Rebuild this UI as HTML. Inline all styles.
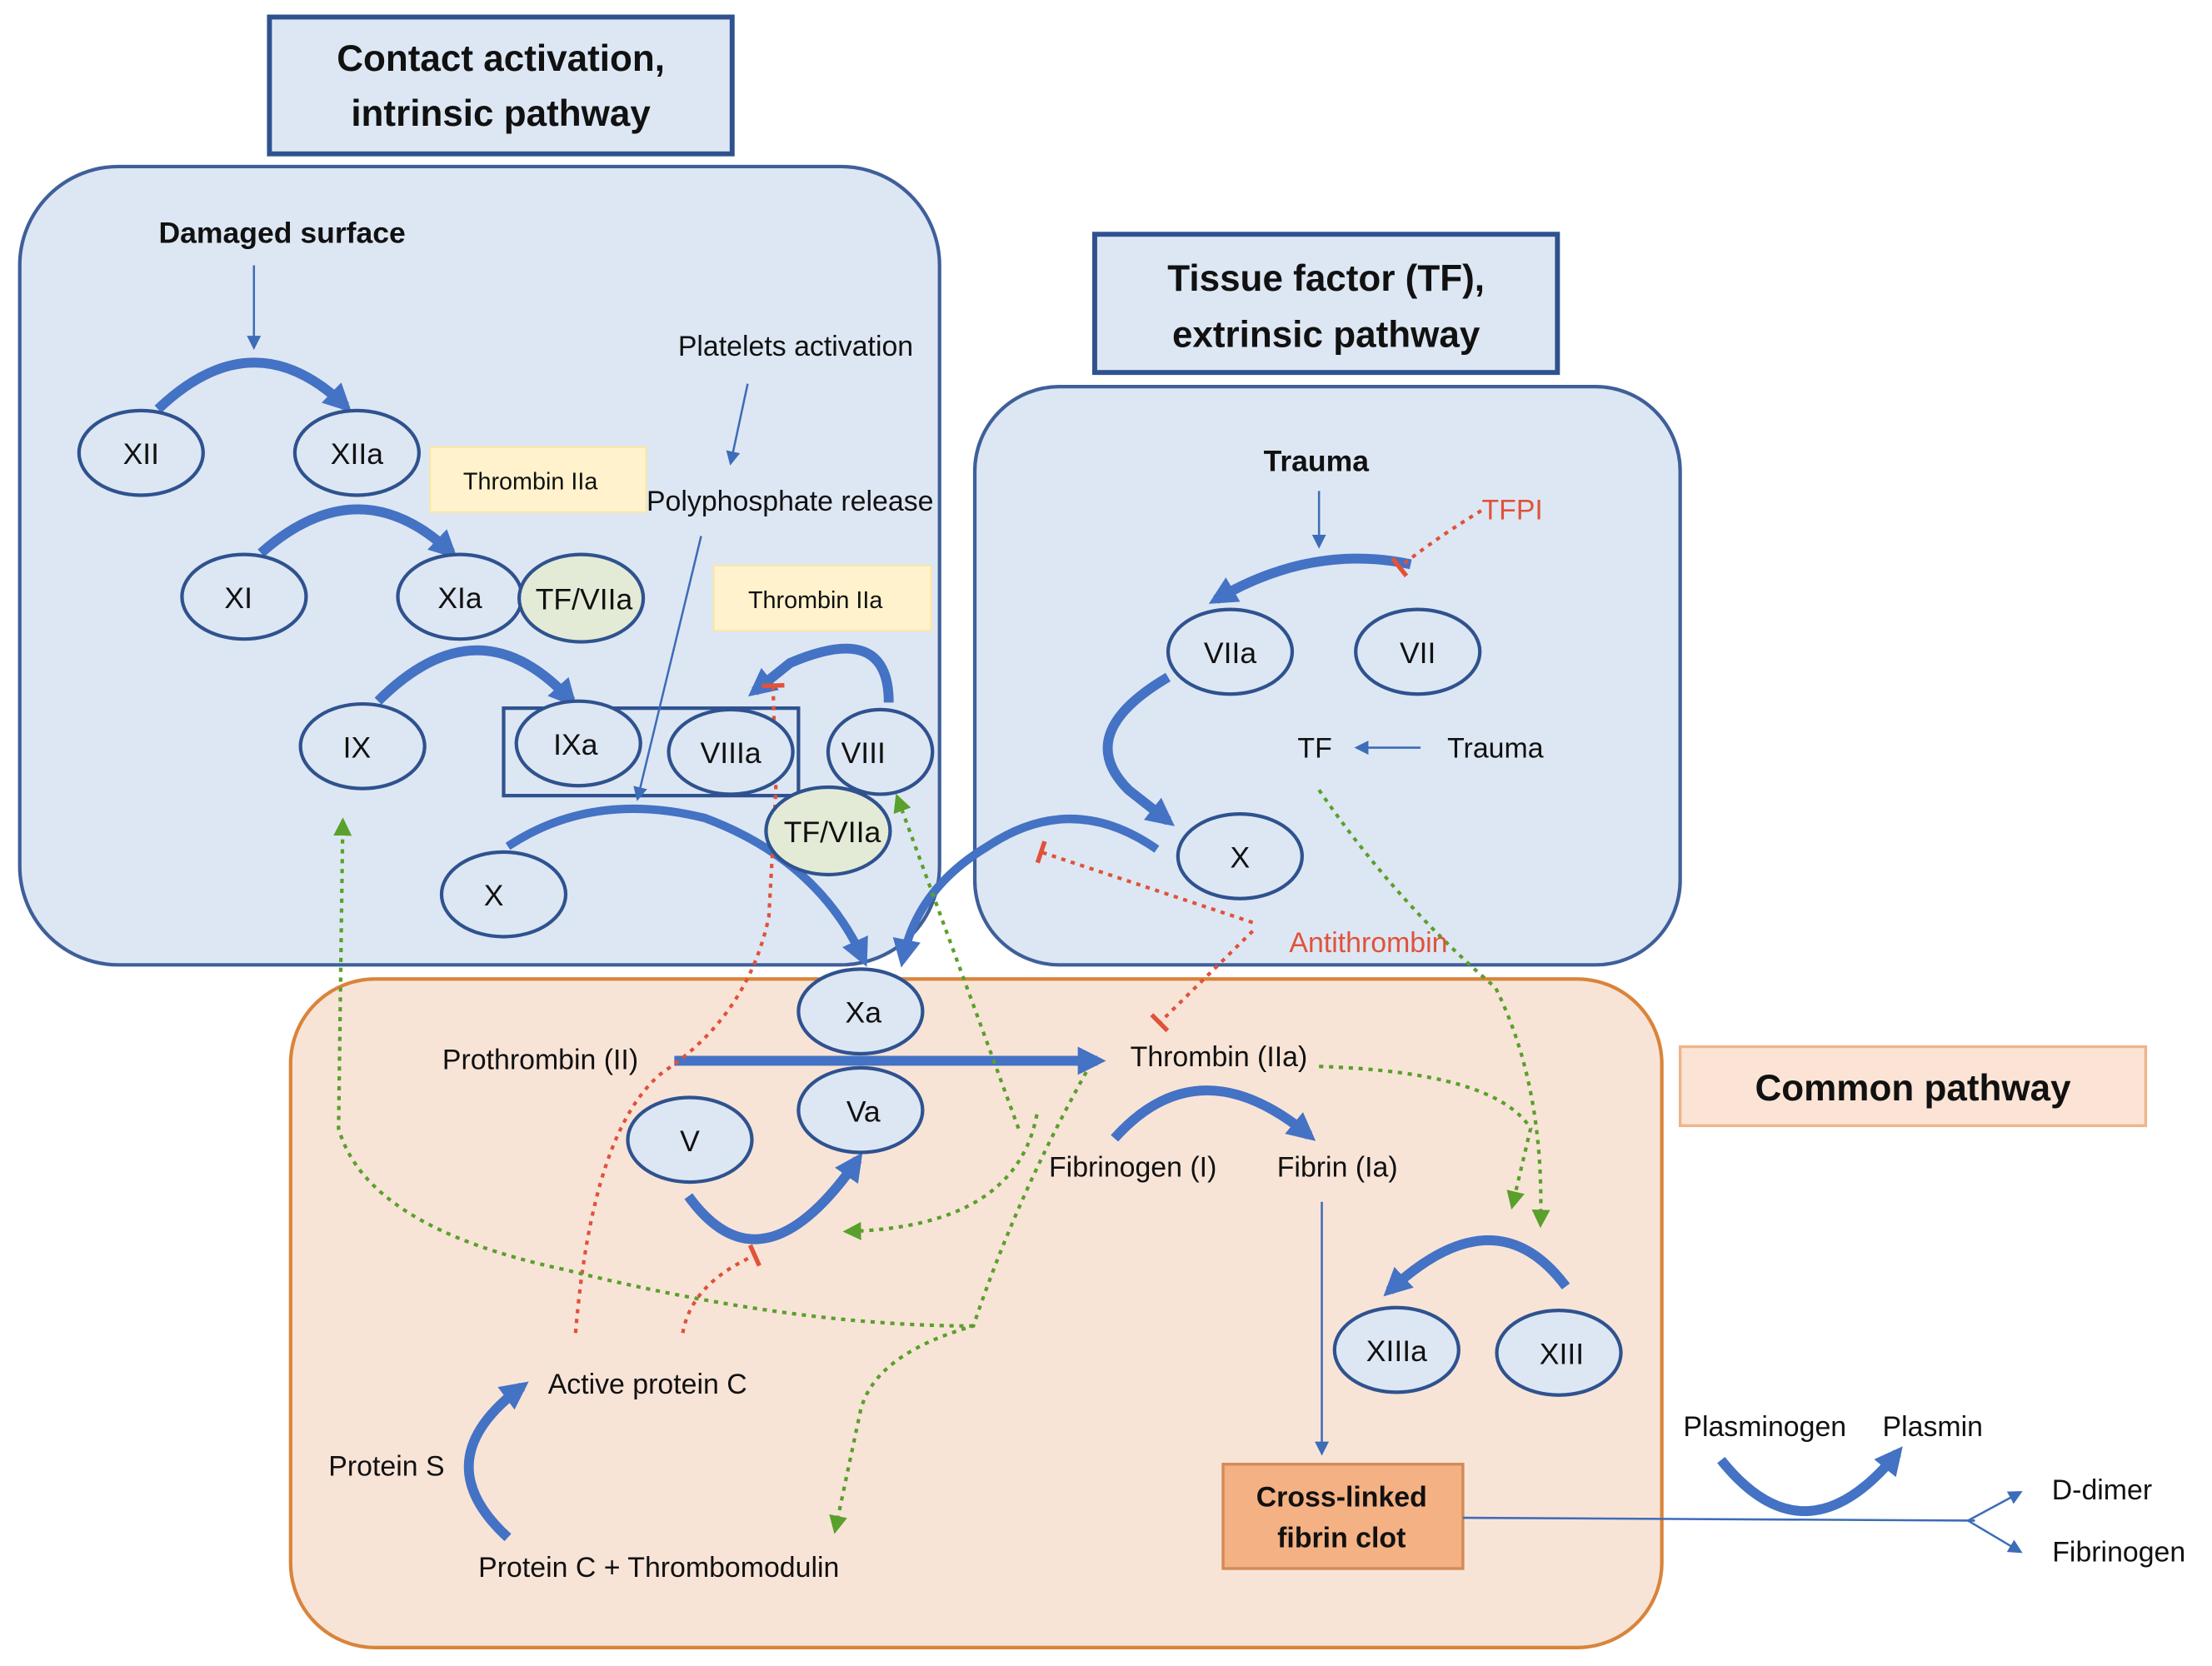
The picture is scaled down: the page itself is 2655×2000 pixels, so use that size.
<!DOCTYPE html>
<html><head><meta charset="utf-8"><style>
html,body{margin:0;padding:0;background:#fff}
svg{display:block}
text{font-family:"Liberation Sans",sans-serif;fill:#111}
</style></head><body>
<svg width="2655" height="2000" viewBox="0 0 1568 1181" xmlns="http://www.w3.org/2000/svg">
<defs>
<marker id="ah" viewBox="0 0 10 10" refX="8" refY="5" markerWidth="10" markerHeight="10" markerUnits="userSpaceOnUse" orient="auto"><path d="M0,0 L10,5 L0,10 z" fill="#3d6cb8"/></marker>
<marker id="ahs" viewBox="0 0 10 10" refX="7" refY="5" markerWidth="20" markerHeight="20" markerUnits="userSpaceOnUse" orient="auto"><path d="M0,0 L10,5 L0,10 z" fill="#4472c4"/></marker>
<marker id="ahg" viewBox="0 0 10 10" refX="8" refY="5" markerWidth="13" markerHeight="13" markerUnits="userSpaceOnUse" orient="auto"><path d="M0,0 L10,5 L0,10 z" fill="#5aa02c"/></marker>
<marker id="tbar" viewBox="0 0 10 10" refX="5" refY="5" markerWidth="16" markerHeight="16" markerUnits="userSpaceOnUse" orient="auto"><path d="M5,0 L5,10" stroke="#e0523a" stroke-width="2"/></marker>
</defs>

<rect x="14" y="118" width="652" height="566" rx="70" fill="#dde7f3" stroke="#3f5f9a" stroke-width="2.5"/>
<rect x="691" y="274" width="500" height="410" rx="60" fill="#dde7f3" stroke="#3f5f9a" stroke-width="2.5"/>
<rect x="206" y="694" width="972" height="474" rx="60" fill="#f8e4d7" stroke="#d9843b" stroke-width="2.5"/>
<rect x="191" y="12" width="328" height="97" fill="#dde7f3" stroke="#2f528f" stroke-width="3.5"/>
<rect x="776" y="166" width="328" height="98" fill="#dde7f3" stroke="#2f528f" stroke-width="3.5"/>
<rect x="1191" y="742" width="330" height="56" fill="#fbe4d5" stroke="#f0b48a" stroke-width="2"/>
<g font-weight="bold" font-size="26" text-anchor="middle">
<text x="355" y="50">Contact activation,</text><text x="355" y="89">intrinsic pathway</text>
<text x="940" y="206">Tissue factor (TF),</text><text x="940" y="246">extrinsic pathway</text>
<text x="1356" y="780">Common pathway</text>
</g>
<rect x="305" y="317" width="153" height="46" fill="#fff2cc" stroke="#ffe699"/>
<rect x="506" y="401" width="154" height="46" fill="#fff2cc" stroke="#ffe699"/>
<rect x="357" y="502" width="209" height="62" fill="none" stroke="#2f528f" stroke-width="2.5"/>
<rect x="867" y="1038" width="170" height="74" fill="#f4b183" stroke="#d48a55" stroke-width="2"/>

<g stroke="#3d6cb8" stroke-width="1.5" fill="none" marker-end="url(#ah)">
<path d="M180,188 L180,246"/>
<path d="M530,272 L518,328"/>
<path d="M497,380 L452,566"/>
<path d="M935,348 L935,387"/>
<path d="M1007,530 L962,530"/>
<path d="M937,852 L937,1030"/>
</g>
<path d="M1037,1076 L1400,1078" stroke="#3d6cb8" stroke-width="1.5" fill="none"/>
<path d="M1395,1078 L1432,1058" stroke="#3d6cb8" stroke-width="1.5" fill="none" marker-end="url(#ah)"/>
<path d="M1395,1078 L1432,1100" stroke="#3d6cb8" stroke-width="1.5" fill="none" marker-end="url(#ah)"/>

<g stroke="#4472c4" stroke-width="7" fill="none" marker-end="url(#ahs)">
<path d="M112,290 Q180,225 245,288"/>
<path d="M185,392 Q255,330 320,392"/>
<path d="M268,497 Q340,425 405,497"/>
<path d="M630,498 Q630,440 560,470 L535,490"/>
<path d="M360,600 Q420,560 500,580 Q580,610 612,680" stroke-width="6"/>
<path d="M820,602 Q760,560 700,600 Q650,630 640,680" stroke-width="6"/>
<path d="M828,480 Q760,520 800,560 L828,582"/>
<path d="M1000,400 Q930,385 862,425"/>
<path d="M478,752 L778,752"/>
<path d="M790,807 Q850,740 928,805"/>
<path d="M488,848 Q540,920 608,822"/>
<path d="M1110,912 Q1060,845 985,915"/>
<path d="M360,1090 Q300,1035 370,983"/>
<path d="M1220,1035 Q1280,1110 1345,1030"/>
</g>

<g stroke="#e0523a" stroke-width="2.5" fill="none" stroke-dasharray="3,4">
<path d="M1050,362 Q1020,380 992,402" marker-end="url(#tbar)"/>
<path d="M888,654 L738,604" marker-end="url(#tbar)"/>
<path d="M888,660 L822,725" marker-end="url(#tbar)"/>
<path d="M408,945 Q420,800 470,760 Q530,720 545,650 L550,560 L548,486" marker-end="url(#tbar)"/>
<path d="M484,945 Q490,910 535,890" marker-end="url(#tbar)"/>
</g>
<g stroke="#5aa02c" stroke-width="2.5" fill="none" stroke-dasharray="3,4" marker-end="url(#ahg)">
<path d="M722,800 L636,565"/>
<path d="M735,790 Q720,870 600,873"/>
<path d="M690,940 Q560,940 400,900 Q260,870 240,800 L243,582"/>
<path d="M770,760 Q720,850 690,940 Q620,960 610,1000 L592,1085"/>
<path d="M935,756 Q1060,760 1085,800 L1072,855"/>
<path d="M935,560 Q990,640 1060,700 Q1095,770 1092,868"/>
</g>

<g stroke="#2f528f" stroke-width="2.5">
<ellipse cx="100" cy="321" rx="44" ry="30" fill="#dde7f3"/>
<ellipse cx="253" cy="321" rx="44" ry="30" fill="#dde7f3"/>
<ellipse cx="173" cy="423" rx="44" ry="30" fill="#dde7f3"/>
<ellipse cx="326" cy="423" rx="44" ry="30" fill="#dde7f3"/>
<ellipse cx="412" cy="424" rx="44" ry="31" fill="#e3ebd6"/>
<ellipse cx="257" cy="529" rx="44" ry="30" fill="#dde7f3"/>
<ellipse cx="410" cy="527" rx="44" ry="30" fill="#dde7f3"/>
<ellipse cx="518" cy="533" rx="44" ry="30" fill="#dde7f3"/>
<ellipse cx="624" cy="533" rx="37" ry="30" fill="#dde7f3"/>
<ellipse cx="587" cy="589" rx="44" ry="31" fill="#e3ebd6"/>
<ellipse cx="357" cy="634" rx="44" ry="30" fill="#dde7f3"/>
<ellipse cx="610" cy="717" rx="44" ry="30" fill="#dde7f3"/>
<ellipse cx="610" cy="787" rx="44" ry="30" fill="#dde7f3"/>
<ellipse cx="489" cy="808" rx="44" ry="30" fill="#dde7f3"/>
<ellipse cx="872" cy="462" rx="44" ry="30" fill="#dde7f3"/>
<ellipse cx="1005" cy="462" rx="44" ry="30" fill="#dde7f3"/>
<ellipse cx="879" cy="607" rx="44" ry="30" fill="#dde7f3"/>
<ellipse cx="990" cy="957" rx="44" ry="30" fill="#dde7f3"/>
<ellipse cx="1105" cy="959" rx="44" ry="30" fill="#dde7f3"/>
</g>
<g font-size="21" text-anchor="middle">
<text x="100" y="329">XII</text><text x="253" y="329">XIIa</text>
<text x="169" y="431">XI</text><text x="326" y="431">XIa</text><text x="414" y="432">TF/VIIa</text>
<text x="253" y="537">IX</text><text x="408" y="535">IXa</text><text x="518" y="541">VIIIa</text>
<text x="612" y="541">VIII</text><text x="590" y="597">TF/VIIa</text>
<text x="350" y="642">X</text><text x="612" y="725">Xa</text><text x="612" y="795">Va</text>
<text x="489" y="816">V</text><text x="872" y="470">VIIa</text><text x="1005" y="470">VII</text>
<text x="879" y="615">X</text><text x="990" y="965">XIIIa</text><text x="1107" y="967">XIII</text>
</g>

<g font-size="20" text-anchor="middle">
<text x="200" y="172" font-weight="bold" font-size="21">Damaged surface</text>
<text x="564" y="252">Platelets activation</text>
<text x="560" y="362">Polyphosphate release</text>
<text x="376" y="347" font-size="17">Thrombin IIa</text>
<text x="578" y="431" font-size="17">Thrombin IIa</text>
<text x="933" y="334" font-weight="bold" font-size="21">Trauma</text>
<text x="1072" y="368" style="fill:#e0523a">TFPI</text>
<text x="932" y="537">TF</text>
<text x="1060" y="537">Trauma</text>
<text x="970" y="675" style="fill:#e0523a">Antithrombin</text>
<text x="383" y="758">Prothrombin (II)</text>
<text x="864" y="756">Thrombin (IIa)</text>
<text x="803" y="834">Fibrinogen (I)</text>
<text x="948" y="834">Fibrin (Ia)</text>
<text x="459" y="988">Active protein C</text>
<text x="274" y="1046">Protein S</text>
<text x="467" y="1118">Protein C + Thrombomodulin</text>
<text x="951" y="1068" font-weight="bold">Cross-linked</text>
<text x="951" y="1097" font-weight="bold">fibrin clot</text>
<text x="1251" y="1018">Plasminogen</text>
<text x="1370" y="1018">Plasmin</text>
<text x="1490" y="1063">D-dimer</text>
<text x="1502" y="1107">Fibrinogen</text>
</g>
</svg>
</body></html>
